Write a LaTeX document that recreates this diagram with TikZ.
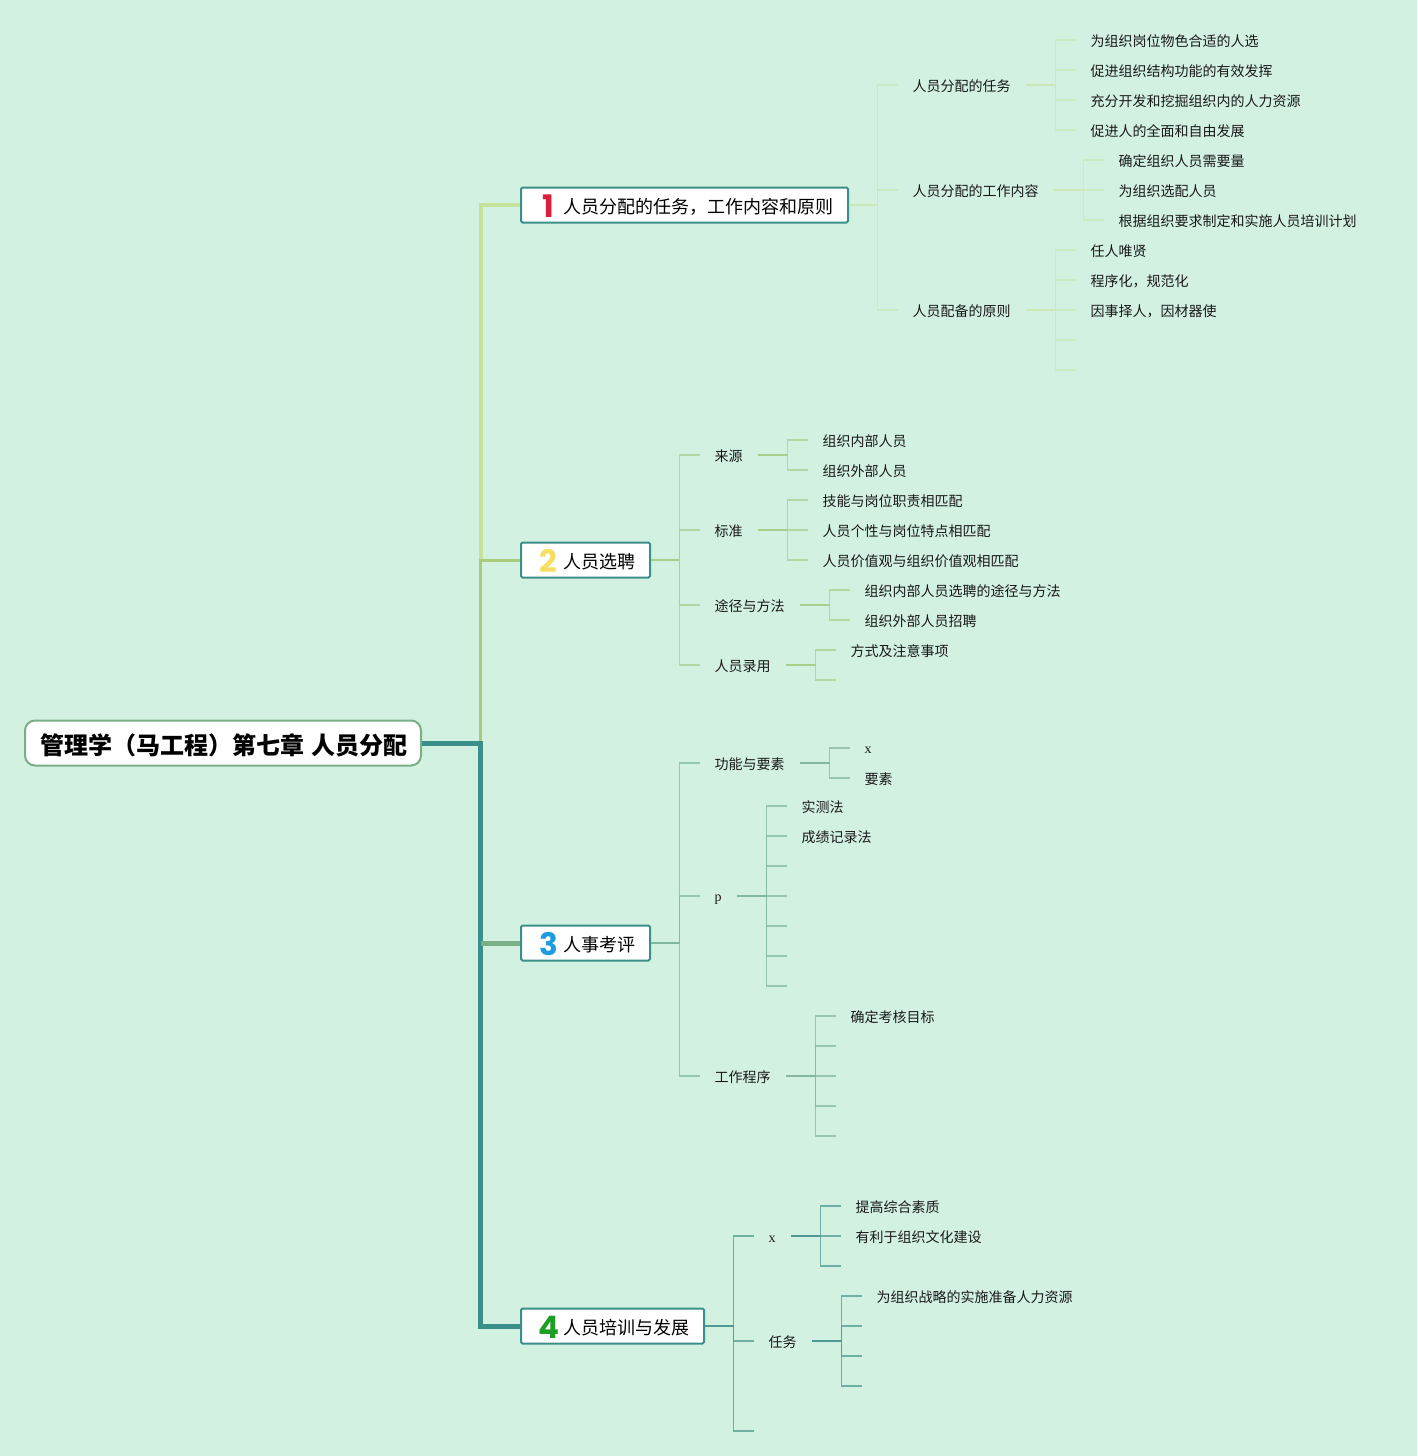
\documentclass[tikz,border=0pt]{standalone}
\usepackage{fontspec}
\setmainfont{Noto Sans CJK SC}
\newfontfamily\latinfont{Liberation Serif}
\newfontfamily\digitfont{Poppins}
\definecolor{bgmint}{HTML}{D3F1E1}
\definecolor{lineone}{HTML}{CBE9B6}
\definecolor{linetwo}{HTML}{A9CF8C}
\definecolor{linethree}{HTML}{82B99E}
\definecolor{linefour}{HTML}{4F9A96}
\definecolor{trunkone}{HTML}{C5E29B}
\definecolor{trunktwo}{HTML}{A9CB7C}
\definecolor{trunkthree}{HTML}{79AE87}
\definecolor{trunkfour}{HTML}{3B8F8A}
\definecolor{digitred}{HTML}{DC1E3C}
\definecolor{digityellow}{HTML}{F6DE62}
\definecolor{digitblue}{HTML}{1F9BE0}
\definecolor{digitgreen}{HTML}{1D9E25}
\tikzset{
	x=1pt, y=-1pt,
	rootbox/.style={draw=trunkthree, fill=white, line width=2pt, rounded corners=10pt, anchor=west, inner xsep=13pt, inner ysep=0pt, minimum height=45pt, text height=25pt, text depth=2pt, font=\fontsize{24}{28}\selectfont\bfseries},
	topicbox/.style={draw=trunkfour, fill=white, line width=2pt, rounded corners=1.5pt, anchor=west, inner xsep=15pt, inner ysep=0pt, minimum height=35pt, text height=17.5pt, text depth=1.5pt, font=\fontsize{18}{22}\selectfont},
	digit/.style={font=\fontsize{31}{33}\selectfont\digitfont\bfseries, inner sep=0pt},
	leaf/.style={anchor=west, inner xsep=15pt, inner ysep=0pt, text height=14pt, text depth=1pt, font=\fontsize{14}{16}\selectfont, text=black!90},
	stub/.style={line width=1.5pt, opacity=0.75},
	link/.style={line width=1.8pt},
}
\begin{document}
\begin{tikzpicture}
	\useasboundingbox[fill=bgmint] (0,0) rectangle (1417,1456);
	\begin{scope}[xshift=-0.5pt]

	\node[rootbox] (root) at (24.5,743) {\hspace*{2pt}管理学（马工程）第七章\hspace{8pt}人员分配};
	\node[topicbox] (topicone) at (520.5,205) {\hspace*{27pt}人员分配的任务，工作内容和原则};
	\node[topicbox] (topictwo) at (520.5,560) {\hspace*{27pt}人员选聘};
	\node[topicbox] (topicthree) at (520.5,943) {\hspace*{27pt}人事考评};
	\node[topicbox] (topicfour) at (520.5,1326) {\hspace*{27pt}人员培训与发展};
	\node[digit, text=digitred] (digitone) at (549,206) {1};
	\node[digit, text=digityellow] (digittwo) at (549,561) {2};
	\node[digit, text=digitblue] (digitthree) at (549,944) {3};
	\node[digit, text=digitgreen] (digitfour) at (549,1327) {4};

	\coordinate (fork) at (481,743);
	\draw[line width=4pt, trunkone] (fork) ++(0,-183) |- (topicone.west);
	\draw[line width=3pt, trunktwo] (fork) |- (topictwo.west);
	\draw[line width=5pt, trunkfour] (root.east) -- (fork) |- (topicfour.west);
	\draw[line width=5pt, trunkthree] (topicthree.west) -- (topicthree.west -| fork);

	% first topic
	\coordinate (a0) at (878,205);
	\coordinate (a1) at (1056,85);
	\coordinate (a2) at (1084,190);
	\coordinate (a3) at (1056,310);
	\draw[link, lineone] (topicone.east) -- (a0);
	\foreach \n/\y/\label in {1/85/人员分配的任务, 2/190/人员分配的工作内容, 3/310/人员配备的原则} {
		\node[leaf] (ta\n) at (898,\y) {\label};
		\draw[stub, lineone] (a0) |- (ta\n.west);
		\draw[link, lineone] (ta\n.east) -- (a\n);
	}
	\foreach \j/\x/\y/\label [count=\n] in {a1/1076/40/为组织岗位物色合适的人选, a1/1076/70/促进组织结构功能的有效发挥, a1/1076/100/充分开发和挖掘组织内的人力资源, a1/1076/130/促进人的全面和自由发展, a2/1104/160/确定组织人员需要量, a2/1104/190/为组织选配人员, a2/1104/220/根据组织要求制定和实施人员培训计划, a3/1076/250/任人唯贤, a3/1076/280/程序化，规范化, a3/1076/310/因事择人，因材器使} {
		\node[leaf] (la\n) at (\x,\y) {\label};
		\draw[stub, lineone] (\j) |- (la\n.west);
	}
	\foreach \y in {340,370} {
		\coordinate (ea\y) at (1076,\y);
		\draw[stub, lineone] (a3) |- (ea\y);
	}

	% second topic
	\coordinate (b0) at (680,560);
	\coordinate (b1) at (788,455);
	\coordinate (b2) at (788,530);
	\coordinate (b3) at (830,605);
	\coordinate (b4) at (816,665);
	\draw[link, linetwo] (topictwo.east) -- (b0);
	\foreach \n/\y/\label in {1/455/来源, 2/530/标准, 3/605/途径与方法, 4/665/人员录用} {
		\node[leaf] (tb\n) at (700,\y) {\label};
		\draw[stub, linetwo] (b0) |- (tb\n.west);
		\draw[link, linetwo] (tb\n.east) -- (b\n);
	}
	\foreach \j/\x/\y/\label [count=\n] in {b1/808/440/组织内部人员, b1/808/470/组织外部人员, b2/808/500/技能与岗位职责相匹配, b2/808/530/人员个性与岗位特点相匹配, b2/808/560/人员价值观与组织价值观相匹配, b3/850/590/组织内部人员选聘的途径与方法, b3/850/620/组织外部人员招聘, b4/836/650/方式及注意事项} {
		\node[leaf] (lb\n) at (\x,\y) {\label};
		\draw[stub, linetwo] (\j) |- (lb\n.west);
	}
	\coordinate (eb) at (836,680);
	\draw[stub, linetwo] (b4) |- (eb);

	% third topic
	\coordinate (c0) at (680,943);
	\coordinate (c1) at (830,763);
	\coordinate (c2) at (767,896);
	\coordinate (c3) at (816,1076);
	\draw[link, linethree] (topicthree.east) -- (c0);
	\foreach \n/\y/\label in {1/763/功能与要素, 2/896/{\latinfont\raisebox{1pt}{p}}, 3/1076/工作程序} {
		\node[leaf] (tc\n) at (700,\y) {\label};
		\draw[stub, linethree] (c0) |- (tc\n.west);
		\draw[link, linethree] (tc\n.east) -- (c\n);
	}
	\foreach \j/\x/\y/\label [count=\n] in {c1/850/748/{\latinfont\raisebox{1pt}{x}}, c1/850/778/要素, c2/787/806/实测法, c2/787/836/成绩记录法, c3/836/1016/确定考核目标} {
		\node[leaf] (lc\n) at (\x,\y) {\label};
		\draw[stub, linethree] (\j) |- (lc\n.west);
	}
	\foreach \y in {866,896,926,956,986} {
		\coordinate (ec\y) at (787,\y);
		\draw[stub, linethree] (c2) |- (ec\y);
	}
	\foreach \y in {1046,1076,1106,1136} {
		\coordinate (ec\y) at (836,\y);
		\draw[stub, linethree] (c3) |- (ec\y);
	}

	% fourth topic
	\coordinate (d0) at (734,1326);
	\coordinate (d1) at (821,1236);
	\coordinate (d2) at (842,1341);
	\draw[link, linefour] (topicfour.east) -- (d0);
	\foreach \n/\y/\label in {1/1236/{\latinfont x}, 2/1341/任务} {
		\node[leaf] (td\n) at (754,\y) {\label};
		\draw[stub, linefour] (d0) |- (td\n.west);
		\draw[link, linefour] (td\n.east) -- (d\n);
	}
	\coordinate (ed) at (754,1431);
	\draw[stub, linefour] (d0) |- (ed);
	\foreach \j/\x/\y/\label [count=\n] in {d1/841/1206/提高综合素质, d1/841/1236/有利于组织文化建设, d2/862/1296/为组织战略的实施准备人力资源} {
		\node[leaf] (ld\n) at (\x,\y) {\label};
		\draw[stub, linefour] (\j) |- (ld\n.west);
	}
	\coordinate (ee) at (841,1266);
	\draw[stub, linefour] (d1) |- (ee);
	\foreach \y in {1326,1356,1386} {
		\coordinate (ed\y) at (862,\y);
		\draw[stub, linefour] (d2) |- (ed\y);
	}
	\end{scope}
\end{tikzpicture}
\end{document}
